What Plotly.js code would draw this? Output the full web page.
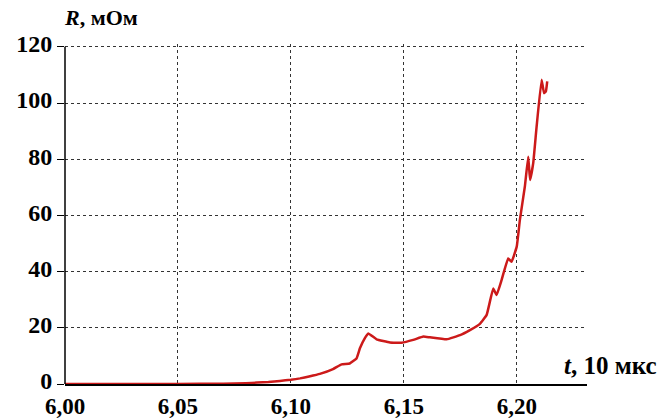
<!DOCTYPE html>
<html><head><meta charset="utf-8">
<script src="https://cdn.plot.ly/plotly-3.0.1.min.js"></script>
<style>body{margin:0;background:#fff}</style>
</head><body><div id="c" style="width:666px;height:420px"></div>
<script>
const tValues = [6.000,6.020,6.040,6.060,6.070,6.080,6.085,6.090,6.0951,6.100,6.104,6.108,6.1128,6.1186,6.1224,6.126,6.129,6.1305,6.1327,6.1342,6.1379,6.1438,6.149,6.1541,6.1586,6.1615,6.1689,6.1748,6.1792,6.1836,6.1866,6.1895,6.191,6.1932,6.1961,6.1976,6.1999,6.2013,6.2035,6.205,6.2058,6.2072,6.2087,6.2109,6.212,6.2128,6.2134];
const rValues = [0,0,0,0.05,0.1,0.3,0.5,0.7,1.1,1.5,2.0,2.7,3.6,5.3,7.0,7.3,9.1,12.7,16.3,18.0,15.9,14.8,14.7,15.7,16.9,16.6,15.9,17.4,19.2,21.4,24.6,34.0,31.7,37.0,44.7,43.5,48.9,58.4,70.3,80.9,72.6,78.6,91.6,108.3,103.5,104.1,107.7];
const xTickVals = [6.00,6.05,6.10,6.15,6.20];
const xTickText = ['6,00','6,05','6,10','6,15','6,20'];
const yTickVals = [0,20,40,60,80,100,120];
const yTickText = ['0','20','40','60','80','100','120'];

const serif = 'Liberation Serif';

Plotly.newPlot('c', [{
  x: tValues, y: rValues, type:'scatter', mode:'lines',
  line:{color:'#cc1a1a', width:2.5, shape:'spline', smoothing:0.3}, hoverinfo:'skip'
}], {
  width:666, height:420,
  margin:{l:65, r:79, t:44, b:36},
  paper_bgcolor:'#fff', plot_bgcolor:'#fff',
  showlegend:false,
  font:{family:serif, color:'#000'},
  xaxis:{range:[6.0,6.231], tickvals:xTickVals, ticktext:xTickText,
    showline:true, linecolor:'#000', linewidth:1.5,
    showgrid:true, gridcolor:'#333', griddash:'dot', gridwidth:1,
    ticks:'', ticklabelstandoff:1,
    tickfont:{family:serif, size:23, color:'#000', weight:700}, zeroline:false},
  yaxis:{range:[0,121], tickvals:yTickVals, ticktext:yTickText,
    showline:false,
    showgrid:true, gridcolor:'#333', griddash:'dot', gridwidth:1,
    ticks:'outside', ticklen:7, tickcolor:'#000', ticklabelshift:-3,
    tickfont:{family:serif, size:24, color:'#000', weight:700}, zeroline:false},
  shapes:[
    {type:'line', xref:'paper', yref:'y', x0:0, x1:0, y0:0, y1:120, line:{color:'#000', width:1.5}}
  ],
  annotations:[
    {xref:'paper', yref:'paper', x:0, xshift:-3, y:1.0, yshift:12, xanchor:'left', yanchor:'bottom',
     text:'<i>R</i>, мОм', showarrow:false,
     font:{family:serif, size:22, color:'#000', weight:700}},
    {xref:'paper', yref:'paper', x:1.0, xshift:72, y:0.0, yshift:3, xanchor:'right', yanchor:'bottom',
     text:'<i>t</i>, 10 мкс', showarrow:false,
     font:{family:serif, size:25, color:'#000', weight:700}}
  ]
}, {displayModeBar:false});
</script></body></html>
